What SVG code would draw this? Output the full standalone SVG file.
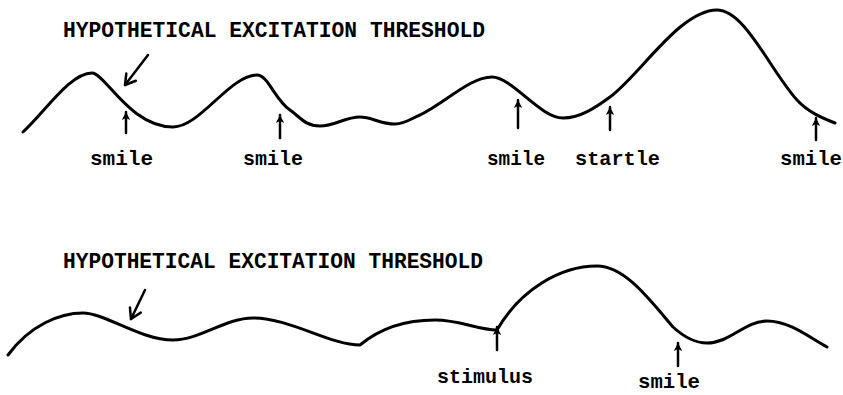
<svg xmlns="http://www.w3.org/2000/svg" width="843" height="395" viewBox="0 0 843 395">
<style>
.curve{fill:none;stroke:#000;stroke-width:3;stroke-linecap:round;stroke-linejoin:round}
.arr{fill:none;stroke:#000;stroke-width:2.5;stroke-linecap:round}
.lbl{font-family:"Liberation Mono","DejaVu Sans Mono",monospace;font-weight:bold;font-size:21px;fill:#000}
.ttl{font-family:"Liberation Mono","DejaVu Sans Mono",monospace;font-weight:bold;font-size:22px;fill:#000}
</style>
<defs>
<marker id="up" markerUnits="userSpaceOnUse" markerWidth="12" markerHeight="12" refX="11" refY="6" orient="auto" viewBox="0 0 12 12">
<path d="M11,6 L3,1.8 L5,6 L3,10.2 Z" fill="#000"/>
</marker>
<marker id="open" markerUnits="userSpaceOnUse" markerWidth="16" markerHeight="16" refX="14" refY="8" orient="auto" viewBox="0 0 16 16">
<path d="M4,2 L14,8 L4,14" fill="none" stroke="#000" stroke-width="2.5" stroke-linecap="round" stroke-linejoin="round"/>
</marker>
</defs>
<g id="top-panel">
<text class="ttl" x="63" y="37" textLength="422" lengthAdjust="spacingAndGlyphs">HYPOTHETICAL EXCITATION THRESHOLD</text>
<path class="curve" d="M23,132 C45,112 70,73 92,73 C105,73 130,127 173,127 C200,127 230,75 257,75 C268,75 275,100 290,110 C300,117 305,126 320,126 C335,126 345,117 360,117 C372,117 380,124 395,124 C405,124 412,118 420,115 C445,103 470,77 492,77 C512,77 540,118 563,118 C580,118 595,108 610,97 C640,75 680,10 717,10 C745,10 770,70 797,100 C808,112 822,118 835,123"/>
<g id="top-arrows">
<line class="arr" x1="148" y1="55" x2="125" y2="85" marker-end="url(#open)"/>
<line class="arr" x1="126" y1="133" x2="126" y2="112" marker-end="url(#up)"/>
<line class="arr" x1="280" y1="138" x2="280" y2="115" marker-end="url(#up)"/>
<line class="arr" x1="518" y1="128" x2="518" y2="100" marker-end="url(#up)"/>
<line class="arr" x1="610" y1="130" x2="610" y2="107" marker-end="url(#up)"/>
<line class="arr" x1="816" y1="140" x2="816" y2="118" marker-end="url(#up)"/>
</g>
<text class="lbl" x="90" y="165" textLength="63" lengthAdjust="spacingAndGlyphs">smile</text>
<text class="lbl" x="243" y="165" textLength="60" lengthAdjust="spacingAndGlyphs">smile</text>
<text class="lbl" x="487" y="165" textLength="58" lengthAdjust="spacingAndGlyphs">smile</text>
<text class="lbl" x="575" y="165" textLength="85" lengthAdjust="spacingAndGlyphs">startle</text>
<text class="lbl" x="780" y="165" textLength="62" lengthAdjust="spacingAndGlyphs">smile</text>
</g>
<g id="bottom-panel">
<text class="ttl" x="63" y="268" textLength="420" lengthAdjust="spacingAndGlyphs">HYPOTHETICAL EXCITATION THRESHOLD</text>
<path class="curve" d="M8,355 C30,325 60,313 83,313 C105,313 140,340 173,340 C200,340 225,318 253,318 C290,318 330,345 360,345 C372,335 395,320 435,320 C460,320 478,330 497,330 C520,290 560,266 597,266 C625,266 650,300 673,327 C685,338 695,343 707,343 C730,343 745,321 767,321 C790,321 810,338 827,347"/>
<g id="bottom-arrows">
<line class="arr" x1="145" y1="290" x2="131" y2="319" marker-end="url(#open)"/>
<line class="arr" x1="497" y1="350" x2="497" y2="327" marker-end="url(#up)"/>
<line class="arr" x1="678" y1="366" x2="678" y2="343" marker-end="url(#up)"/>
</g>
<text class="lbl" x="437" y="383" textLength="96" lengthAdjust="spacingAndGlyphs">stimulus</text>
<text class="lbl" x="638" y="388" textLength="62" lengthAdjust="spacingAndGlyphs">smile</text>
</g>
</svg>
